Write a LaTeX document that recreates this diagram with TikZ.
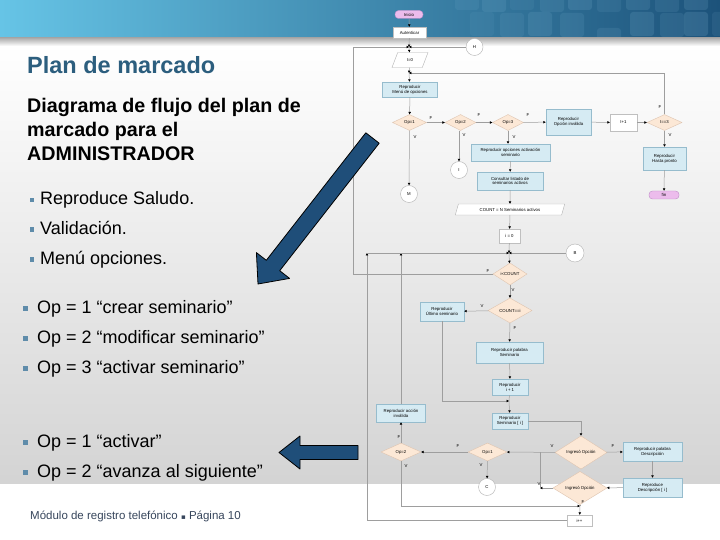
\documentclass[tikz,border=0pt]{standalone}
\usepackage{fontspec}
\setmainfont{Liberation Sans}
\newfontfamily\dejavu{DejaVu Sans}
\usetikzlibrary{shapes.geometric,arrows.meta}
\definecolor{banL}{RGB}{102,196,230}
\definecolor{banR}{RGB}{28,82,122}
\definecolor{titlec}{RGB}{44,94,126}
\definecolor{footc}{RGB}{55,70,92}
\definecolor{bulc}{RGB}{95,140,170}
\definecolor{arrc}{RGB}{31,78,121}
\definecolor{boxfill}{RGB}{214,235,243}
\definecolor{boxbd}{RGB}{150,188,205}
\definecolor{diafill}{RGB}{252,232,214}
\definecolor{diabd}{RGB}{222,196,176}
\definecolor{termfill}{RGB}{236,188,236}
\definecolor{termbd}{RGB}{190,140,200}
\definecolor{sqc}{RGB}{140,190,220}
\tikzset{
 fl/.style={draw=black!38, line width=0.5pt},
 fa/.style={fl, -{Triangle[length=2.4pt,width=2.4pt,color=black]}},
 ft/.style={font=\fontsize{4.3}{4.9}\selectfont, align=center, inner sep=0pt},
 fbox/.style={ft, rectangle, draw=boxbd, fill=boxfill, line width=0.5pt},
 wbox/.style={ft, rectangle, draw=black!25, fill=white, line width=0.4pt},
 dia/.style={ft, diamond, draw=diabd, fill=diafill, line width=0.4pt},
 circ/.style={ft, circle, draw=black!30, fill=white, minimum size=17pt},
 term/.style={ft, rectangle, rounded corners=3.5pt, draw=termbd, fill=termfill, line width=0.4pt},
 para/.style={ft, trapezium, trapezium stretches=true, trapezium left angle=60, trapezium right angle=120, draw=black!30, fill=white, line width=0.4pt},
 lab/.style={font=\fontsize{4.3}{5}\selectfont, inner sep=0pt},
 btxt/.style={anchor=base west, inner sep=0pt, font=\fontsize{18}{20}\selectfont},
 bigarrow/.style={fill=arrc, draw=black, line width=0.8pt, line join=round},
}
\begin{document}
\begin{tikzpicture}[x=1pt,y=-1pt]
\useasboundingbox (0,0) rectangle (720,540);
% background
\fill[white] (0,0) rectangle (720,540);
\shade[top color=white, middle color=black!5, bottom color=black!17] (0,45) rectangle (720,483);
\shade[left color=banL, right color=banR] (0,0) rectangle (720,37);
\begin{scope}
\clip (0,0) rectangle (720,37);
\foreach \x/\y/\o in {455/-14/0.10,482/-12/0.14,510/-14/0.08,540/-12/0.12,568/-14/0.16,597/-12/0.10,626/-14/0.14,655/-12/0.12,684/-14/0.16,
  470/12/0.08,500/13/0.10,528/12/0.14,560/13/0.12,597/28/0.12,630/12/0.16,660/13/0.12,684/12/0.18,712/12/0.10}
  \fill[sqc, opacity=\o, rounded corners=3pt] (\x,\y) rectangle ++(24,24);
\end{scope}
\fill[white!85!banR] (0,37) rectangle (720,38);
\shade[top color=black!32, bottom color=white] (0,38) rectangle (720,46);

% left text
\node[anchor=base west, inner sep=0pt, text=titlec, font=\bfseries\fontsize{23.5}{26}\selectfont] (title) at (27,74) {Plan de marcado};
\node[anchor=base west, inner sep=0pt, font=\bfseries\fontsize{19.7}{24}\selectfont] (d1) at (27,113) {Diagrama de flujo del plan de};
\node[anchor=base west, inner sep=0pt, font=\bfseries\fontsize{19.7}{24}\selectfont] (d2) at (27,137) {marcado para el};
\node[anchor=base west, inner sep=0pt, font=\bfseries\fontsize{19.7}{24}\selectfont] (d3) at (27,161) {ADMINISTRADOR};

\foreach \yy/\tt [count=\k] in {205/Reproduce Saludo., 234.5/Validación., 264/Menú opciones.}{
  \fill[bulc] (29.5,\yy-7) rectangle ++(4.5,4.5);
  \node[btxt] (b\k) at (40,\yy) {\tt};
}
\foreach \yy/\tt [count=\k] in {313/{Op = 1 “crear seminario”}, 343/{Op = 2 “modificar seminario”}, 373/{Op = 3 “activar seminario”}, 447/{Op = 1 “activar”}, 477/{Op = 2 “avanza al siguiente”}}{
  \fill[bulc] (23,\yy-7) rectangle ++(4.5,4.5);
  \node[btxt] (c\k) at (37,\yy) {\tt};
}
\node[anchor=base west, inner sep=0pt, text=footc, font=\fontsize{11.5}{13}\selectfont] (foot) at (30,519) {Módulo de registro telefónico {\dejavu\fontsize{7}{8}\selectfont ▪} Página 10};

% flowchart nodes
\node[term, minimum width=28pt, minimum height=8pt] (inicio) at (409,14.5) {Inicio};
\node[wbox, minimum width=33pt, minimum height=11pt] (aut) at (409.5,32.5) {Autenticar};
\coordinate (j1) at (409,47);
\node[circ] (H) at (474.5,47) {H};
\node[para, minimum width=36pt, minimum height=15pt, trapezium left angle=65, trapezium right angle=115] (I0) at (410,60) {I=0};
\coordinate (j2) at (409,73);
\node[fbox, minimum width=55pt, minimum height=15pt] (rep1) at (410,89.5) {Reproducir\\Menú de opciones};
\node[dia, minimum width=34pt, minimum height=16pt] (op1) at (409.5,122.5) {Op=1};
\node[dia, minimum width=31pt, minimum height=16pt] (op2) at (460.5,122.5) {Op=2};
\node[dia, minimum width=31pt, minimum height=16pt] (op3) at (508,122.5) {Op=3};
\node[fbox, minimum width=45pt, minimum height=26pt] (inv) at (568.5,122) {Reproducir\\Opción inválida};
\node[wbox, minimum width=27pt, minimum height=17pt] (iplus) at (623.5,122.5) {I+1};
\node[dia, minimum width=35pt, minimum height=16pt] (i3) at (664.5,122.5) {I==3};
\node[fbox, minimum width=43pt, minimum height=23pt] (hasta) at (664.5,158.5) {Reproducir\\Hasta pronto};
\node[term, minimum width=30pt, minimum height=8pt] (fin) at (664,195) {fin};
\node[circ] (M) at (409,194) {M};
\node[circ] (Ic) at (459,170) {I};
\node[fbox, minimum width=79pt, minimum height=17pt] (act) at (510.5,152.5) {Reproducir opciones activación\\seminario};
\node[fbox, minimum width=66pt, minimum height=18pt] (cons) at (510,181) {Consultar listado de\\seminarios activos};
\node[para, minimum width=110pt, minimum height=11pt] (cnt) at (510,209.5) {COUNT = N Seminarios activos};
\node[wbox, minimum width=21pt, minimum height=14pt] (i0) at (509.5,236) {i = 0};
\coordinate (j3) at (509,253);
\node[circ, minimum size=18pt] (B) at (575,253) {B};
\node[dia, minimum width=34pt, minimum height=22pt] (ic) at (510,274) {i<COUNT};
\node[dia, minimum width=44pt, minimum height=25pt] (ci) at (510,310.5) {COUNT==i};
\node[fbox, minimum width=44pt, minimum height=19pt] (ult) at (442,311.5) {Reproducir\\Último seminario};
\node[fbox, minimum width=67pt, minimum height=21pt] (pal) at (509.5,352.5) {Reproducir palabra\\Seminario};
\node[fbox, minimum width=36pt, minimum height=16pt] (rip) at (510,387) {Reproducir\\i + 1};
\coordinate (j4) at (509,401);
\node[fbox, minimum width=36pt, minimum height=16pt] (sem) at (510,421) {Reproducir\\Seminario [ i ]};
\node[fbox, minimum width=49pt, minimum height=18pt] (inv2) at (401,413) {Reproducir acción\\inválida};
\node[dia, minimum width=40pt, minimum height=18pt] (op2b) at (401,452) {Op=2};
\node[dia, minimum width=39pt, minimum height=18pt] (op1b) at (487.5,452) {Op=1};
\node[circ] (C) at (487,487) {C};
\coordinate (j5) at (540,452);
\node[dia, minimum width=52pt, minimum height=19pt] (ing1) at (581,452.5) {Ingresó Opción};
\node[fbox, minimum width=59pt, minimum height=19pt] (desc) at (652.5,451.5) {Reproducir palabra\\Descripción};
\node[fbox, minimum width=59pt, minimum height=19pt] (descr) at (652.5,487.5) {Reproduce\\Descripción [ i ]};
\node[dia, minimum width=54pt, minimum height=18pt] (ing2) at (580,488) {Ingresó Opción};
\coordinate (j6) at (580,506);
\node[wbox, minimum width=25pt, minimum height=11pt] (ipp) at (579.5,520.5) {i++};
\coordinate (lx) at (353,274);
\coordinate (lx2) at (367,253);

% connectors
\draw[fa] (inicio) -- (aut);
\draw[fa] (aut) -- (j1);
\draw[fa] (H) -- (j1);
\draw[fa] (j1) -- (I0);
\draw[fa] (I0) -- (j2);
\draw[fa] (j2) -- (rep1);
\draw[fa] (i3.north) |- (j2);
\draw[fa] (rep1) -- (op1);
\draw[fa] (op1) -- (op2);
\draw[fa] (op2) -- (op3);
\draw[fa] (op3) -- (inv);
\draw[fa] (inv) -- (iplus);
\draw[fa] (iplus) -- (i3);
\draw[fa] (i3) -- (hasta);
\draw[fa] (hasta) -- (fin);
\draw[fa] (op1) -- (M);
\draw[fa] (op2.south -| Ic) -- (Ic);
\draw[fa] (op3) -- (op3 |- act.north);
\draw[fa] (act) -- (cons);
\draw[fa] (cons) -- (cnt);
\draw[fa] (cnt) -- (i0);
\draw[fa] (i0) -- (j3);
\draw[fa] (B) -- (j3);
\draw[fa] (j3) -- (ic);
\draw[fa] (ic.west) -- (lx) |- (j1);
\draw[fa] (ic) -- (ci);
\draw[fa] (ci) -- (ult);
\draw[fa] (ci) -- (pal);
\draw[fa] (pal) -- (rip);
\draw[fl] (rip) -- (j4);
\draw[fa] (ult) |- (j4);
\draw[fa] (j4) -- (sem);
\draw[fa] (sem) -| (ing1);
\draw[fa] (ing1) -- (desc);
\draw[fa] (ing1) -- (op1b);
\draw[fa] (desc) -- (descr);
\draw[fa] (descr) -- (ing2);
\draw[fa] (ing2) -- (ing2.west -| j5);
\draw[fl] (ing2.west -| j5) -- (j5);
\draw[fl] (ing2) -- (j6);
\draw[fa] (op2b) |- (j6);
\draw[fa] (j6) -- (ipp);
\draw[fa] (op1b) -- (op2b);
\draw[fa] (op1b) -- (C);
\draw[fa] (op2b) -- (inv2);
\draw[fa] (inv2) -- (inv2 |- j3);
\draw[fa] (ipp) -| (lx2);
\draw[fa] (lx2) -- (j3);

% F / V labels
\node[lab] (l1) at (431,118) {F};
\node[lab] (l2) at (415,137) {V};
\node[lab] (l3) at (479,115) {F};
\node[lab] (l4) at (464,135) {V};
\node[lab] (l5) at (528,115) {F};
\node[lab] (l6) at (514,137) {V};
\node[lab] (l7) at (660,107) {F};
\node[lab] (l8) at (670,135) {V};
\node[lab] (l9) at (488,271) {F};
\node[lab] (l10) at (513,290) {V};
\node[lab] (l11) at (482,306) {V};
\node[lab] (l12) at (515,328) {F};
\node[lab] (l13) at (399,437) {F};
\node[lab] (l14) at (406,466) {V};
\node[lab] (l15) at (458,446) {F};
\node[lab] (l16) at (481,465) {V};
\node[lab] (l17) at (552,446) {V};
\node[lab] (l18) at (613,446) {F};
\node[lab] (l19) at (539,484) {V};
\node[lab] (l20) at (583,502) {F};

% big arrows
\draw[bigarrow] (365.8,132.8) -- (266.3,260.3) -- (256.4,252.6) -- (258,284) -- (289.6,278.4) -- (279.7,270.7) -- (379.2,143.2) -- cycle;
\draw[bigarrow] (358,445.5) -- (300,445.5) -- (300,436) -- (279,452.5) -- (300,469) -- (300,459.5) -- (358,459.5) -- cycle;
\end{tikzpicture}
\end{document}
